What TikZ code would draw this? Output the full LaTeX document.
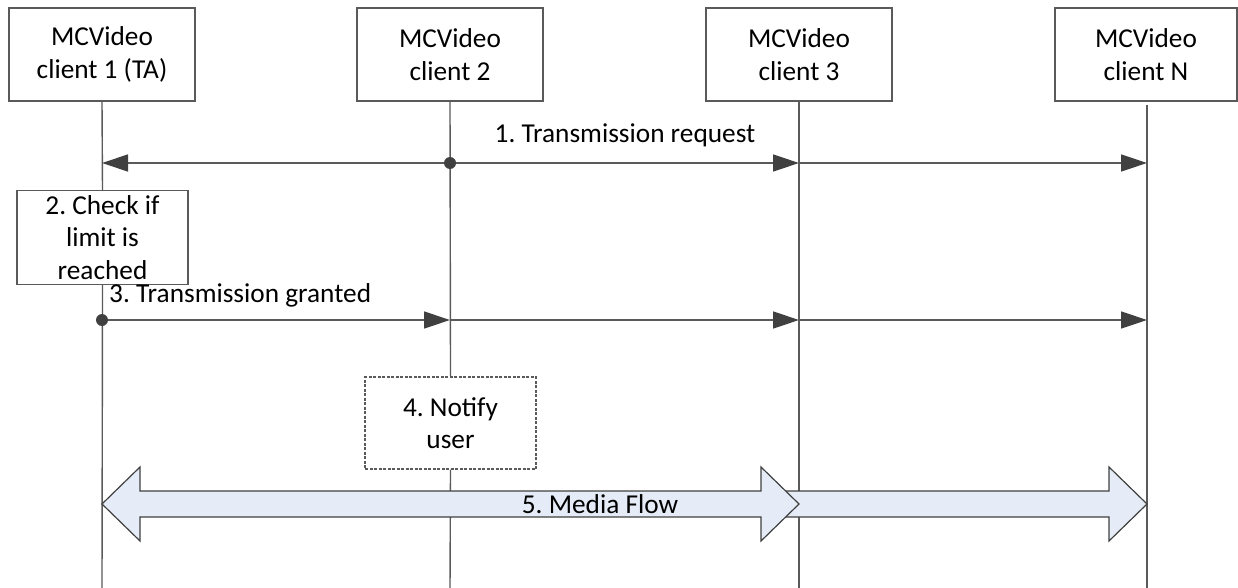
\documentclass[tikz,border=0pt]{standalone}
\usepackage{fontspec}
\setmainfont{Carlito}
\usetikzlibrary{arrows.meta}
\definecolor{lineg}{HTML}{5A5A5A}
\definecolor{headg}{HTML}{404040}
\definecolor{flowfill}{HTML}{E5ECF7}
\frenchspacing
\begin{document}
\begin{tikzpicture}[x=1pt,y=-1pt,
  every node/.style={font=\fontsize{27.3}{32.3}\selectfont, inner sep=0pt},
  actor/.style={draw=lineg, line width=1.3pt, minimum width=186pt, minimum height=93pt, align=center},
  actionbox/.style={draw=lineg, line width=1.3pt, minimum width=171pt, minimum height=94pt, align=center},
  dashbox/.style={draw=lineg, line width=1.3pt, dashed, dash pattern=on 3pt off 1.5pt, minimum width=171pt, minimum height=92pt, align=center},
  life/.style={draw=lineg, line width=1.4pt},
  msg/.style={draw=lineg, line width=1.3pt, -{Triangle[length=26pt,width=17pt,color=headg]}},
  dotstart/.style={fill=headg, circle, minimum size=12pt, inner sep=0pt},
  flow/.style={draw=headg, line width=1.2pt, fill=flowfill, line join=miter}
]
\useasboundingbox (0,0) rectangle (1238,588);

% actors
\node[actor] (c1) at (102,54.5) {MCVideo\\client 1 (TA)};
\node[actor] (c2) at (450,54.5) {MCVideo\\client 2};
\node[actor] (c3) at (799,54.5) {MCVideo\\client 3};
\node[actor, minimum width=182pt] (cN) at (1146,54.5) {MCVideo\\client N};

% action boxes
\node[actionbox] (chk) at (102.5,237.5) {2. Check if\\limit is\\reached};
\node[dashbox] (notify) at (450.5,423) {4. Notify\\user};

% lifeline ends
\coordinate (e1) at (102,588);
\coordinate (e2) at (450,588);
\coordinate (e3) at (799,588);
\coordinate (eNs) at (1147,105);
\coordinate (eN) at (1147,588);

\draw[life] (c1.south) -- (chk.north);
\draw[life] (chk.south) -- (e1);
\draw[life] (c2.south) -- (notify.north);
\draw[life] (notify.south) -- (e2);
\draw[life] (c3.south) -- (e3);
\draw[life] (eNs) -- (eN);

% message 1
\coordinate (m1s) at (450,163);
\coordinate (m1a) at (102,163);
\coordinate (m1b) at (799,163);
\coordinate (m1c) at (1147,163);
\draw[msg] (m1s) -- (m1a);
\draw[msg] (m1s) -- (m1b);
\draw[msg] (m1b) -- (m1c);
\node[dotstart] (d1) at (m1s) {};
\node (l1) at (625,135) {1. Transmission request};

% message 3
\coordinate (m3s) at (102,320);
\coordinate (m3a) at (450,320);
\coordinate (m3b) at (799,320);
\coordinate (m3c) at (1147,320);
\draw[msg] (m3s) -- (m3a);
\draw[msg] (m3a) -- (m3b);
\draw[msg] (m3b) -- (m3c);
\node[dotstart] (d3) at (m3s) {};
\node[anchor=base west] (l3) at (109,302) {3. Transmission granted};

% media flow
\draw[flow] (785,491) -- (1109,491) -- (1109,467) -- (1147,504) -- (1109,541) -- (1109,517) -- (785,517) -- cycle;
\draw[flow] (102,504) -- (140,467) -- (140,491) -- (761,491) -- (761,467) -- (799,504) -- (761,541) -- (761,517) -- (140,517) -- (140,541) -- cycle;
\node (l5) at (600,504) {5. Media Flow};
\end{tikzpicture}
\end{document}
